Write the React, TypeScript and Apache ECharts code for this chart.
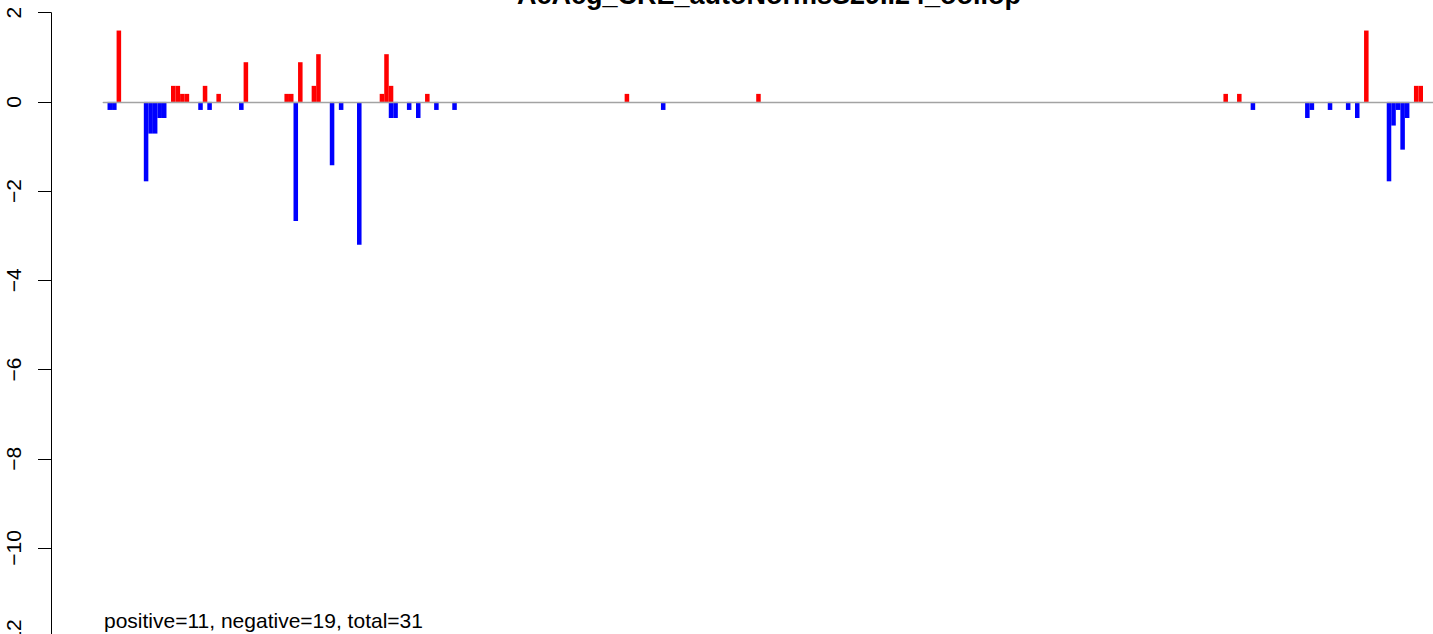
import React, { useEffect, useRef } from "react";
import * as echarts from "echarts";

const TITLE = "AcAcg_CRE_autoNormsS29I.24_ool.op";
const NOTE = "positive=11, negative=19, total=31";
const BIN_COUNT = 290;

const positiveBins = [2, 14, 15, 16, 17, 21, 24, 30, 39, 40, 42, 45, 46, 60, 61, 62, 70, 114, 143, 246, 249, 277, 288, 289];
const positiveValues = [1.6, 0.36, 0.36, 0.18, 0.18, 0.36, 0.18, 0.89, 0.18, 0.18, 0.89, 0.36, 1.07, 0.18, 1.07, 0.36, 0.18, 0.18, 0.18, 0.18, 0.18, 1.6, 0.36, 0.36];

const negativeBins = [0, 1, 8, 9, 10, 11, 12, 20, 22, 29, 41, 49, 51, 55, 62, 63, 66, 68, 72, 76, 122, 252, 264, 265, 269, 273, 275, 282, 283, 284, 285, 286];
const negativeValues = [-0.18, -0.18, -1.78, -0.71, -0.71, -0.36, -0.36, -0.18, -0.18, -0.18, -2.67, -1.42, -0.18, -3.2, -0.36, -0.36, -0.18, -0.36, -0.18, -0.18, -0.18, -0.18, -0.36, -0.18, -0.18, -0.18, -0.36, -1.78, -0.53, -0.18, -1.07, -0.36];

const yTicks = { min: -12, max: 2, interval: 2 };

const FONT = "'Liberation Sans', Arial, Helvetica, sans-serif";

function pairs(bins: number[], vals: number[]) {
  return bins.map((b, k) => [b, vals[k]]);
}

function barRenderer(color: string) {
  return (_params: any, api: any) => {
    const i = api.value(0);
    const v = api.value(1);
    const p0 = api.coord([i, 0]);
    const p1 = api.coord([i + 1, v]);
    return {
      type: "rect",
      shape: {
        x: p0[0],
        y: Math.min(p0[1], p1[1]),
        width: p1[0] - p0[0],
        height: Math.abs(p1[1] - p0[1]),
      },
      style: { fill: color },
    };
  };
}

export default function App() {
  const ref = useRef<HTMLDivElement>(null);
  useEffect(() => {
    if (!ref.current) return;
    const chart = echarts.init(ref.current, null, { renderer: "svg" });
    chart.setOption({
      animation: false,
      backgroundColor: "#ffffff",
      grid: {
        left: 103.3,
        right: 0,
        top: 12.7,
        bottom: -3.2,
        containLabel: false,
        outerBoundsMode: "none",
      },
      xAxis: {
        type: "value",
        min: -0.93,
        max: BIN_COUNT + 2.2,
        z: 5,
        axisLine: { show: true, onZero: true, lineStyle: { color: "#a3a3a3", width: 1.4 } },
        axisTick: { show: false },
        axisLabel: { show: false },
        splitLine: { show: false },
      },
      yAxis: {
        type: "value",
        min: yTicks.min,
        max: yTicks.max,
        interval: yTicks.interval,
        offset: 52.3,
        axisLine: { show: true, onZero: false, lineStyle: { color: "#000", width: 1 } },
        axisTick: { show: true, length: 13, lineStyle: { color: "#000", width: 1 } },
        axisLabel: {
          rotate: 90,
          margin: 27,
          color: "#000",
          fontSize: 21,
          fontFamily: FONT,
          formatter: (v: number) => String(v).replace("-", "\u2212"),
        },
        splitLine: { show: false },
      },
      series: [
        {
          type: "custom",
          renderItem: barRenderer("#ff0000"),
          data: pairs(positiveBins, positiveValues),
          z: 2,
        },
        {
          type: "custom",
          renderItem: barRenderer("#0000ff"),
          data: pairs(negativeBins, negativeValues),
          z: 2,
        },
      ],
      graphic: [
        {
          type: "text",
          x: 769,
          y: 8,
          style: {
            text: TITLE,
            fontSize: 27,
            fontWeight: "bold",
            fontFamily: FONT,
            fill: "#000",
            align: "center",
            verticalAlign: "bottom",
          },
        },
        {
          type: "text",
          x: 104,
          y: 631,
          style: {
            text: NOTE,
            fontSize: 21,
            fontFamily: FONT,
            fill: "#000",
            align: "left",
            verticalAlign: "bottom",
          },
        },
      ],
    });
    return () => chart.dispose();
  }, []);
  return <div ref={ref} style={{ position: "absolute", left: 0, top: 0, width: 1433, height: 634 }} />;
}
